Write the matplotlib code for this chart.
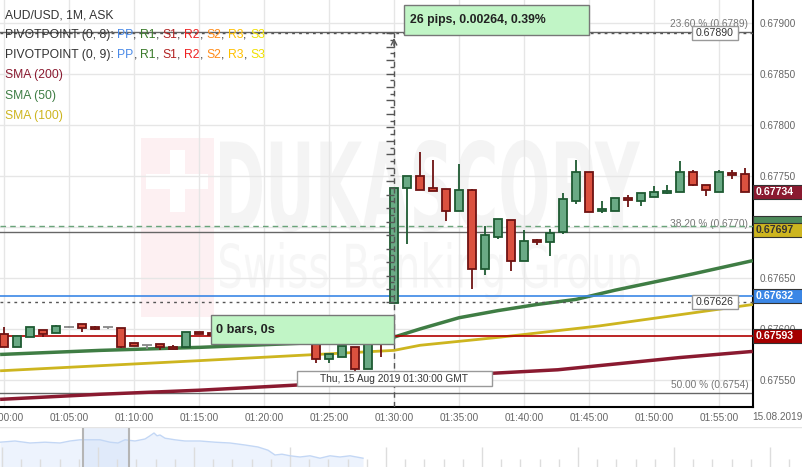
# AUD/USD 1M candles, 15 Aug 2019 01:00-01:57 GMT, with SMA / pivot / fib overlays
import numpy as np
import matplotlib
matplotlib.use('Agg')
from matplotlib import pyplot as plt
from matplotlib import transforms
from matplotlib.patches import Rectangle, PathPatch
from matplotlib.textpath import TextPath
from matplotlib.font_manager import FontProperties

plt.rcParams['font.family'] = ['Liberation Sans', 'DejaVu Sans']

W, H = 803, 467

# ---- data --------------------------------------------------------------
minutes = list(range(58))          # 01:00 .. 01:57
opens = [0.67595, 0.67582, 0.67592, 0.67599, 0.67596, 0.67602, 0.67605, 0.67602,
         0.67602, 0.67601, 0.67586, 0.67584, 0.67585, 0.67582, 0.67582, 0.67597,
         0.67596, 0.67594, 0.67598, 0.67596, 0.67600, 0.67597, 0.67601, 0.67598,
         0.67590, 0.67571, 0.67573, 0.67582, 0.67561, 0.67598, 0.67625, 0.67738,
         0.67750, 0.67738, 0.67737, 0.67716, 0.67736, 0.67659, 0.67690, 0.67707,
         0.67667, 0.67687, 0.67685, 0.67695, 0.67725, 0.67754, 0.67716, 0.67716,
         0.67728, 0.67725, 0.67729, 0.67733, 0.67734, 0.67754, 0.67741, 0.67734,
         0.67753, 0.67752]
highs = [0.67602, 0.67594, 0.67602, 0.67599, 0.67604, 0.67603, 0.67605, 0.67603,
         0.67602, 0.67601, 0.67586, 0.67584, 0.67585, 0.67584, 0.67597, 0.67597,
         0.67597, 0.67600, 0.67600, 0.67601, 0.67601, 0.67602, 0.67602, 0.67599,
         0.67592, 0.67575, 0.67583, 0.67582, 0.67600, 0.67600, 0.67738, 0.67750,
         0.67773, 0.67766, 0.67737, 0.67762, 0.67737, 0.67701, 0.67708, 0.67707,
         0.67697, 0.67688, 0.67698, 0.67733, 0.67766, 0.67754, 0.67725, 0.67728,
         0.67731, 0.67733, 0.67740, 0.67741, 0.67765, 0.67756, 0.67741, 0.67756,
         0.67756, 0.67758]
lows = [0.67582, 0.67582, 0.67592, 0.67592, 0.67596, 0.67601, 0.67597, 0.67599,
        0.67600, 0.67581, 0.67583, 0.67580, 0.67579, 0.67580, 0.67582, 0.67595,
        0.67594, 0.67592, 0.67594, 0.67594, 0.67596, 0.67595, 0.67596, 0.67594,
        0.67567, 0.67567, 0.67573, 0.67559, 0.67561, 0.67573, 0.67625, 0.67683,
        0.67736, 0.67735, 0.67706, 0.67716, 0.67639, 0.67653, 0.67688, 0.67657,
        0.67667, 0.67682, 0.67672, 0.67693, 0.67723, 0.67715, 0.67714, 0.67716,
        0.67720, 0.67721, 0.67729, 0.67732, 0.67734, 0.67740, 0.67730, 0.67734,
        0.67747, 0.67734]
closes = [0.67582, 0.67593, 0.67602, 0.67595, 0.67603, 0.67602, 0.67601, 0.67600,
          0.67602, 0.67582, 0.67583, 0.67584, 0.67582, 0.67580, 0.67597, 0.67595,
          0.67594, 0.67598, 0.67596, 0.67600, 0.67597, 0.67601, 0.67598, 0.67596,
          0.67571, 0.67575, 0.67583, 0.67561, 0.67599, 0.67594, 0.67738, 0.67750,
          0.67736, 0.67735, 0.67716, 0.67736, 0.67659, 0.67692, 0.67708, 0.67667,
          0.67686, 0.67685, 0.67694, 0.67727, 0.67754, 0.67715, 0.67718, 0.67728,
          0.67726, 0.67733, 0.67734, 0.67735, 0.67754, 0.67741, 0.67736, 0.67754,
          0.67751, 0.67734]

sma50_t = [-0.3, 7.4, 15.1, 22.8, 30.0, 32.0, 35.0, 38.0, 41.0, 44.0, 47.0, 50.0, 53.0, 57.6]
sma50 = [0.67575, 0.67579, 0.67582, 0.67586, 0.67592, 0.67600, 0.67611, 0.67618,
         0.67624, 0.67629, 0.67638, 0.67646, 0.67654, 0.67667]
sma100_t = [-0.3, 15.1, 30.0, 32.0, 38.2, 45.8, 52.0, 57.6]
sma100 = [0.67559, 0.67569, 0.67579, 0.67584, 0.67592, 0.67603, 0.67614, 0.67624]
sma200_t = [-0.3, 7.4, 15.1, 22.5, 30.5, 38.2, 42.6, 52.0, 57.6]
sma200 = [0.67531, 0.67536, 0.67540, 0.67545, 0.67552, 0.67557, 0.67560, 0.67572, 0.67578]

fib_levels = [0.67891, 0.67695, 0.67537]
fib_labels = ['23.60 % (0.6789)', '38.20 % (0.6770)', '50.00 % (0.6754)']
blue_line = 0.67632
red_line = 0.67593
green_line = 0.67701
cross_hi = 0.67890
cross_lo = 0.67626
cross_t = 30

# price tags on the right axis: value, box colour, text colour (None = hidden under next tag)
tags = [(0.67734, '#8a1a30', 'white'),
        (0.67704, '#4d8a5a', None),
        (0.67697, '#cdb51f', '#333333'),
        (0.67632, '#3b87e6', 'white'),
        (0.67593, '#a50000', 'white')]

yticks = [0.6755, 0.6760, 0.6765, 0.6770, 0.6775, 0.6780, 0.6785, 0.6790]
xticks = list(range(0, 60, 5))
xticklabels = ['01:%02d:00' % m for m in xticks]

nav_x = [0, 15, 30, 45, 60, 70, 80, 90, 100, 110, 118, 125, 135, 145, 150, 154, 157, 160,
         165, 175, 185, 200, 215, 230, 245, 258, 268, 275, 282, 290, 300, 310, 320, 330,
         340, 350, 363]
nav_v = [0.62, 0.65, 0.60, 0.62, 0.60, 0.65, 0.68, 0.68, 0.68, 0.62, 0.60, 0.68, 0.65,
         0.70, 0.78, 0.85, 0.78, 0.80, 0.72, 0.68, 0.65, 0.65, 0.62, 0.60, 0.55, 0.50,
         0.42, 0.30, 0.32, 0.28, 0.25, 0.28, 0.22, 0.28, 0.25, 0.28, 0.22]

# ---- figure ------------------------------------------------------------
fig = plt.figure(figsize=(W / 100, H / 100), dpi=100)
ax = fig.add_axes([0, 60 / H, 753 / W, 407 / H])
ax.set_xlim(-4 / 13, 749 / 13)
ax.set_ylim(0.675235, 0.679225)
ax.set_axisbelow(True)

def fx(x):
    return x / W

def fy(y):
    return 1 - y / H

# watermark
pix = transforms.IdentityTransform()
ax.add_patch(Rectangle((141, H - 317), 73, 179, transform=pix, color='#fdf0f2', zorder=0.1, lw=0))
ax.add_patch(Rectangle((170, H - 212), 15, 62, transform=pix, color='white', zorder=0.15, lw=0))
ax.add_patch(Rectangle((146, H - 189), 62, 15, transform=pix, color='white', zorder=0.15, lw=0))

def wm_text(s, x0, y0, x1, y1, weight, color):
    tp = TextPath((0, 0), s, size=100, prop=FontProperties(family='DejaVu Sans', weight=weight))
    bb = tp.get_extents()
    tr = (transforms.Affine2D().translate(-bb.x0, -bb.y0)
          .scale((x1 - x0) / bb.width, (y1 - y0) / bb.height)
          .translate(x0, H - y1))
    ax.add_patch(PathPatch(tr.transform_path(tp), transform=pix, color=color, lw=0, zorder=0.1))

wm_text('DUKASCOPY', 220, 140, 640, 232, 'bold', '#f4f4f4')
wm_text('Swiss Banking Group', 220, 242, 640, 300, 'normal', '#f6f6f6')

# grid and axes
ax.set_yticks(yticks)
ax.set_yticklabels(['%.5f' % v for v in yticks])
ax.set_xticks(xticks)
ax.set_xticklabels(xticklabels)
ax.yaxis.tick_right()
ax.tick_params(axis='both', length=0, labelsize=7.2, labelcolor='#666666')
ax.tick_params(axis='y', pad=5)
ax.tick_params(axis='x', pad=4.5)
ax.grid(True, color='#e6e6e6', lw=1)
for s in ['left', 'top']:
    ax.spines[s].set_visible(False)
for s in ['right', 'bottom']:
    ax.spines[s].set_color('black')
    ax.spines[s].set_linewidth(1.5)
fig.text(fx(777), fy(417), '15.08.2019', ha='center', va='center', fontsize=7.2, color='#666666')

# fib lines
for lv, lab in zip(fib_levels, fib_labels):
    ax.axhline(lv, color='#666666', lw=1, zorder=2)
    ax.text(57.25, lv + 0.00003, lab, ha='right', va='bottom', fontsize=7.3, color='#777777', zorder=2)

# SMAs
ax.plot(sma200_t, sma200, color='#8a1a30', lw=2.5, zorder=3, solid_capstyle='butt')
ax.plot(sma100_t, sma100, color='#cdb51f', lw=2, zorder=3, solid_capstyle='butt')
ax.plot(sma50_t, sma50, color='#3f7d44', lw=2.5, zorder=3, solid_capstyle='butt')

# horizontal lines
ax.axhline(blue_line, color='#3b87e6', lw=1.2, zorder=3)
ax.axhline(red_line, color='#b00000', lw=1.2, zorder=3)
ax.axhline(green_line, color='#6aa47a', lw=1, ls=(0, (4, 3)), zorder=3)
ax.axhline(cross_hi, color='#555555', lw=1, ls=(0, (2, 3)), zorder=3)
ax.axhline(cross_lo, color='#555555', lw=1, ls=(0, (2, 3)), zorder=3)

# candles
o = np.array(opens); c = np.array(closes); hi = np.array(highs); lo = np.array(lows)
t = np.array(minutes)
up = c > o
down = c < o
flat = c == o
ax.vlines(t[up], lo[up], hi[up], color='#1e5a32', lw=1.3, zorder=4)
ax.vlines(t[down], lo[down], hi[down], color='#6e1212', lw=1.3, zorder=4)
ax.vlines(t[flat], lo[flat], hi[flat], color='#888888', lw=1.3, zorder=4)
ax.bar(t[up], c[up] - o[up], bottom=o[up], width=0.6, color='#6aaa85',
       edgecolor='#1e5a32', lw=1.3, zorder=5)
ax.bar(t[down], np.maximum(o[down] - c[down], 0.00001), bottom=c[down], width=0.6,
       color='#db513f', edgecolor='#6e1212', lw=1.3, zorder=5)
ax.hlines(o[flat], t[flat] - 0.4, t[flat] + 0.4, color='#888888', lw=1.3, zorder=5)

# measuring ruler / crosshair
ax.axvline(cross_t, color='#555555', lw=1, ls=(0, (4, 3)), ymax=(cross_hi - 0.675235) / 0.00399, zorder=6)
ruler = np.linspace(cross_lo, cross_hi, 41)
ax.hlines(ruler[::2], cross_t - 0.6, cross_t, color='#555555', lw=1, zorder=6)
ax.hlines(ruler[1::2], cross_t - 0.3, cross_t, color='#555555', lw=1, zorder=6)
ax.annotate('', xy=(cross_t, cross_hi - 0.00002), xytext=(cross_t, cross_hi - 0.00015),
            arrowprops=dict(arrowstyle='->', color='#555555', lw=1), zorder=6)

# annotation boxes
def box(x0, y0, x1, y1, fc, ec):
    fig.add_artist(Rectangle((fx(x0), fy(y1)), fx(x1) - fx(x0), fy(y0) - fy(y1),
                             transform=fig.transFigure, fc=fc, ec=ec, lw=1, zorder=10))

box(404, 5, 589, 35, '#c1f5c6', '#777777')
fig.text(fx(410), fy(20), '26 pips, 0.00264, 0.39%', fontsize=8.8, fontweight='bold',
         color='#222222', va='center', zorder=11)
box(211, 315, 394, 344, '#c1f5c6', '#777777')
fig.text(fx(216), fy(330), '0 bars, 0s', fontsize=9.2, fontweight='bold',
         color='#222222', va='center', zorder=11)
box(297, 371, 492, 386, 'white', '#999999')
fig.text(fx(394), fy(378.5), 'Thu, 15 Aug 2019 01:30:00 GMT', fontsize=7.3, color='#333333',
         ha='center', va='center', zorder=11)

# small value boxes on the crosshair lines
blend_in = transforms.blended_transform_factory(fig.transFigure, ax.transData)
hh = 7 / 102000
for val in [cross_hi, cross_lo]:
    ax.add_patch(Rectangle((fx(692), val - hh), fx(738) - fx(692), 2 * hh, transform=blend_in,
                           fc='white', ec='#999999', lw=1, zorder=7))
    ax.text(fx(715), val, '%.5f' % val, transform=blend_in, ha='center', va='center',
            fontsize=7.6, color='#333333', zorder=8)

# price tags
for val, bc, tc in tags:
    ax.add_patch(Rectangle((fx(753), val - hh), fx(803) - fx(753), 2 * hh, transform=blend_in,
                           fc=bc, ec='#333333', lw=0.8, zorder=7, clip_on=False))
    if tc is not None:
        ax.text(fx(756), val, '%.5f' % val, transform=blend_in, ha='left', va='center',
                fontsize=7.6, fontweight='bold', color=tc, zorder=8, clip_on=False)

# legend text, top left
ax.text(fx(5), fy(15), 'AUD/USD, 1M, ASK', transform=fig.transFigure, fontsize=8.7,
        color='#333333', va='center', zorder=9)
piv = [('PP', '#4a8ae8'), ('R1', '#3a7a2a'), ('S1', '#b22222'), ('R2', '#ee2222'),
       ('S2', '#ff8c1a'), ('R3', '#ffc000'), ('S3', '#f0e000')]
for row, lab in [(35, 'PIVOTPOINT (0, 8): '), (55, 'PIVOTPOINT (0, 9): ')]:
    prev = ax.text(fx(5), fy(row), lab, transform=fig.transFigure, fontsize=8.7,
                   color='#333333', va='center', zorder=9)
    for i, (name, col) in enumerate(piv):
        prev = ax.annotate(name, xy=(1, 0), xycoords=prev, va='bottom', ha='left',
                           fontsize=8.7, color=col, zorder=9, annotation_clip=False)
        if i < len(piv) - 1:
            prev = ax.annotate(', ', xy=(1, 0), xycoords=prev, va='bottom', ha='left',
                               fontsize=8.7, color='#333333', zorder=9, annotation_clip=False)
for row, lab, col in [(75, 'SMA (200)', '#8a1a30'), (96, 'SMA (50)', '#3f7d44'),
                      (116, 'SMA (100)', '#cdb51f')]:
    ax.text(fx(5), fy(row), lab, transform=fig.transFigure, fontsize=8.7, color=col,
            va='center', zorder=9)

# navigator
nav = fig.add_axes([0, 0, 1, 40 / H])
nav.set_xlim(0, W)
nav.set_ylim(0, 1)
nav.axis('off')
nav.axhline(1, color='#e4e4e4', lw=1)
for xt in np.arange(2, W, 19.2):
    tall = abs((xt - 2) % 96) < 1
    nav.vlines(xt, 0, 0.5 if tall else 0.2, color='#dddddd', lw=1)
nav.fill_between(nav_x, nav_v, 0, color='#edf3fd', lw=0)
nav.plot(nav_x, nav_v, color='#c3d7f5', lw=1)
nav.axvspan(83, 129, ymax=0.97, color='#d5e3f8', alpha=0.5, lw=0)
nav.vlines([83, 129], 0, 0.97, color='#b5b5b5', lw=1.5)

fig.savefig('out.png', dpi=100)
